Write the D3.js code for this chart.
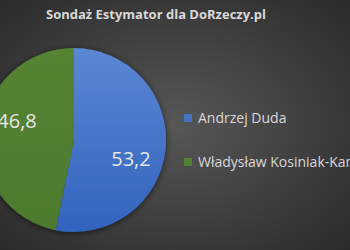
<!DOCTYPE html>
<html lang="pl">
<head>
<meta charset="UTF-8">
<title>Sondaż Estymator</title>
<script src="https://d3js.org/d3.v7.min.js"></script>
<style>
  body { margin: 0; background: #333; }
</style>
</head>
<body>
<script>
var names = ["Andrzej Duda", "Władysław Kosiniak-Kamysz"];
var values = [53.2, 46.8];
var labels = ["53,2", "46,8"];
var colors = ["#4472c4", "#548235"];

var W = 350, H = 250;
var svg = d3.select("body").append("svg")
    .attr("width", W).attr("height", H)
    .style("font-family", "'Open Sans', 'Noto Sans', sans-serif");

var defs = svg.append("defs");
var bg = defs.append("radialGradient").attr("id", "bg")
    .attr("cx", "50%").attr("cy", "50%").attr("r", "70%");
bg.append("stop").attr("offset", "0%").attr("stop-color", "#575757");
bg.append("stop").attr("offset", "100%").attr("stop-color", "#2b2b2b");

var gBlue = defs.append("linearGradient").attr("id", "g0")
    .attr("x1", 0).attr("y1", 0).attr("x2", 0).attr("y2", 1);
gBlue.append("stop").attr("offset", "0%").attr("stop-color", "#5b87d4");
gBlue.append("stop").attr("offset", "100%").attr("stop-color", "#3263bd");
var gGreen = defs.append("linearGradient").attr("id", "g1")
    .attr("x1", 0).attr("y1", 0).attr("x2", 0).attr("y2", 1);
gGreen.append("stop").attr("offset", "0%").attr("stop-color", "#568434");
gGreen.append("stop").attr("offset", "100%").attr("stop-color", "#4d7a2e");

var sh = defs.append("filter").attr("id", "shadow")
    .attr("x", "-20%").attr("y", "-20%").attr("width", "140%").attr("height", "140%");
sh.append("feGaussianBlur").attr("in", "SourceAlpha").attr("stdDeviation", 3);
sh.append("feOffset").attr("dx", 0).attr("dy", 1).attr("result", "b");
sh.append("feComponentTransfer").append("feFuncA").attr("type", "linear").attr("slope", 0.6);
var m = sh.append("feMerge");
m.append("feMergeNode");
m.append("feMergeNode").attr("in", "SourceGraphic");

svg.append("rect").attr("width", W).attr("height", H).attr("fill", "url(#bg)");

svg.append("text")
    .attr("x", 156).attr("y", 19)
    .attr("text-anchor", "middle")
    .attr("fill", "#d9d9d9")
    .attr("font-size", 13)
    .attr("font-weight", "bold")
    .text("Sondaż Estymator dla DoRzeczy.pl");

var cx = 74, cy = 140, r = 92;
var pie = d3.pie().sort(null).value(function(d) { return d; });
var arc = d3.arc().innerRadius(0).outerRadius(r);
var arcs = pie(values);

var g = svg.append("g").attr("transform", "translate(" + cx + "," + cy + ")");
g.append("g").attr("filter", "url(#shadow)")
  .selectAll("path").data(arcs).join("path")
    .attr("d", arc)
    .attr("fill", function(d, i) { return "url(#g" + i + ")"; });

// data labels sit a bit clockwise of the slice middle, like the original
function labelPos(d) {
  var a = (d.startAngle + d.endAngle) / 2 + 0.22, rr = 60;
  return [Math.sin(a) * rr, -Math.cos(a) * rr];
}
g.selectAll("text.lbl").data(arcs).join("text")
    .attr("class", "lbl")
    .attr("transform", function(d) { var p = labelPos(d); return "translate(" + p[0] + "," + p[1] + ")"; })
    .attr("text-anchor", "middle")
    .attr("dy", "0.35em")
    .attr("fill", "#e6e6e6")
    .attr("font-size", 20)
    .text(function(d, i) { return labels[i]; });

var leg = svg.append("g").selectAll("g").data(names).join("g")
    .attr("transform", function(d, i) { return "translate(184," + (114 + i * 44) + ")"; });
leg.append("rect").attr("width", 8).attr("height", 8)
    .attr("fill", function(d, i) { return colors[i]; });
leg.append("text").attr("x", 14).attr("y", 8.5)
    .attr("fill", "#d9d9d9").attr("font-size", 14)
    .text(function(d) { return d; });
</script>
</body>
</html>
